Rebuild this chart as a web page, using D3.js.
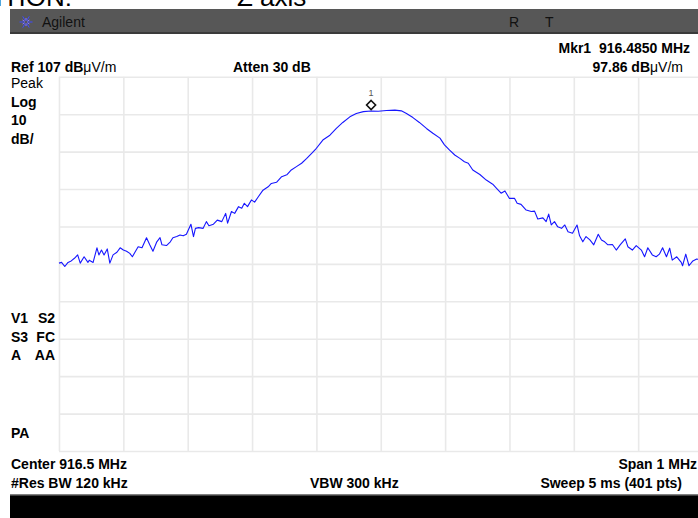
<!DOCTYPE html>
<html lang="en">
  <head>
    <meta charset="UTF-8" />
    <title>Spectrum trace - 916.5 MHz</title>
    <script src="https://cdn.jsdelivr.net/npm/d3@7"></script>
    <style>
      html, body { margin: 0; padding: 0; background: #fff; }
      svg { display: block; font-family: Arial, "Liberation Sans", sans-serif; }
      .b { font-weight: bold; font-size: 14px; fill: #000; white-space: pre; }
      .r { font-weight: normal; }
      .grid line { stroke: #e9e9e9; stroke-width: 1.6; }
      .grid path { display: none; }
    </style>
  </head>
  <body>
    <svg id="svg"></svg>
    <script>
      // analyzer settings
      const refLevel = 107;
      const dbPerDiv = 10;
      const freqTicks = [916.0, 916.1, 916.2, 916.3, 916.4, 916.5, 916.6, 916.7, 916.8, 916.9, 917.0];
      const levelTicks = [7, 17, 27, 37, 47, 57, 67, 77, 87, 97, 107];

      // trace, MHz / dBuV/m
      const freqMHz = [
        916.000, 916.004, 916.009, 916.014, 916.019, 916.024, 916.029, 916.033, 916.039, 916.045,
        916.047, 916.053, 916.059, 916.062, 916.066, 916.070, 916.075, 916.079, 916.084, 916.090,
        916.095, 916.100, 916.105, 916.110, 916.114, 916.118, 916.123, 916.129, 916.136, 916.141,
        916.146, 916.152, 916.157, 916.160, 916.167, 916.173, 916.177, 916.183, 916.188, 916.193,
        916.198, 916.205, 916.209, 916.212, 916.217, 916.224, 916.229, 916.233, 916.240, 916.246,
        916.253, 916.259, 916.262, 916.268, 916.273, 916.279, 916.284, 916.288, 916.293, 916.299,
        916.304, 916.310, 916.317, 916.325, 916.330, 916.338, 916.346, 916.354, 916.361, 916.369,
        916.377, 916.385, 916.393, 916.400, 916.410, 916.421, 916.431, 916.441, 916.452, 916.462,
        916.473, 916.485, 916.496, 916.509, 916.522, 916.532, 916.540, 916.550, 916.560, 916.571,
        916.581, 916.592, 916.599, 916.607, 916.615, 916.623, 916.630, 916.636, 916.643, 916.654,
        916.664, 916.674, 916.680, 916.687, 916.693, 916.700, 916.708, 916.712, 916.718, 916.726,
        916.734, 916.739, 916.744, 916.752, 916.757, 916.761, 916.765, 916.770, 916.775, 916.781,
        916.786, 916.791, 916.798, 916.805, 916.809, 916.814, 916.819, 916.825, 916.831, 916.838,
        916.843, 916.848, 916.853, 916.860, 916.866, 916.872, 916.880, 916.884, 916.891, 916.897,
        916.905, 916.910, 916.915, 916.922, 916.928, 916.933, 916.938, 916.944, 916.949, 916.953,
        916.960, 916.967, 916.969, 916.974, 916.979, 916.985, 916.991, 917.000
      ];
      const levelDb = [
        57.2, 57.4, 56.3, 57.4, 57.8, 58.5, 59.4, 57.2, 58.9, 57.4,
        58.0, 57.4, 61.3, 59.4, 60.7, 59.4, 61.0, 57.2, 59.4, 60.1,
        61.3, 60.7, 60.4, 59.8, 58.9, 60.1, 61.6, 61.3, 64.0, 62.1,
        60.4, 62.9, 64.0, 62.1, 61.9, 62.9, 64.0, 64.3, 64.7, 64.5,
        64.9, 67.6, 64.3, 66.5, 66.7, 66.5, 68.3, 67.2, 67.6, 68.7,
        68.3, 70.5, 67.9, 71.0, 70.5, 72.3, 71.9, 73.2, 72.3, 74.1,
        73.5, 75.0, 76.7, 77.6, 78.5, 78.8, 80.3, 80.8, 82.1, 83.0,
        83.9, 85.2, 86.6, 87.9, 90.1, 91.4, 93.2, 94.8, 96.3, 97.2,
        97.7, 97.86, 97.8, 98.0, 98.1, 97.9, 97.2, 96.1, 94.8, 93.2,
        91.9, 90.6, 88.8, 87.4, 86.1, 85.2, 84.3, 83.9, 82.1, 80.9,
        79.4, 78.3, 77.2, 75.9, 76.5, 74.5, 74.5, 73.2, 72.9, 71.4,
        71.0, 71.1, 69.0, 69.3, 68.3, 70.3, 67.4, 68.3, 66.9, 66.5,
        67.4, 65.6, 65.2, 67.4, 64.5, 62.9, 64.3, 63.4, 62.1, 64.9,
        63.4, 62.9, 62.1, 62.2, 60.7, 62.1, 63.7, 61.6, 60.7, 61.9,
        60.7, 58.9, 61.3, 59.4, 58.9, 59.6, 61.3, 58.9, 61.2, 58.0,
        58.9, 57.4, 56.5, 59.6, 56.5, 57.8, 58.3, 58.0
      ];
      const markerFreq = 916.485;
      const markerLevel = 97.86;

      const W = 698, H = 518;
      const svg = d3.select("#svg").attr("width", W).attr("height", H);

      const x = d3.scaleLinear().domain([916.0, 917.0]).range([59, 702.5]);
      const y = d3.scaleLinear()
        .domain([refLevel - 10 * dbPerDiv, refLevel])
        .range([451, 76.8]);

      // heading text cut off by the top edge (as in the screenshot)
      svg.append("text").attr("x", 72).attr("y", 6).attr("text-anchor", "end")
        .style("font-size", "26px").text("POSITION:");
      svg.append("text").attr("x", 237).attr("y", 6)
        .style("font-size", "26px").text("Z axis");

      // title bar
      svg.append("rect").attr("x", 10).attr("y", 9).attr("width", W - 10).attr("height", 24)
        .attr("fill", "#575757");
      svg.append("rect").attr("x", 10).attr("y", 32).attr("width", W - 10).attr("height", 2)
        .attr("fill", "#3a3a3a");
      const star = svg.append("g").attr("transform", "translate(26,22)");
      d3.range(12).forEach((i) => {
        const a = (i * Math.PI) / 6;
        const r = i % 2 ? 4 : 6.5;
        star.append("line")
          .attr("x1", Math.cos(a) * 1.5).attr("y1", Math.sin(a) * 1.5)
          .attr("x2", Math.cos(a) * r).attr("y2", Math.sin(a) * r)
          .attr("stroke", i % 2 ? "#8a7bff" : "#3f4bff").attr("stroke-width", 1);
      });
      svg.append("text").attr("x", 42).attr("y", 27).style("font-size", "14px")
        .attr("fill", "#111").text("Agilent");
      svg.append("text").attr("x", 509).attr("y", 27).style("font-size", "14px")
        .attr("fill", "#111").text("R");
      svg.append("text").attr("x", 545).attr("y", 27).style("font-size", "14px")
        .attr("fill", "#111").text("T");

      // grid from axes
      const plotH = y(levelTicks[0]) - y(levelTicks[levelTicks.length - 1]);
      svg.append("g").attr("class", "grid")
        .attr("transform", `translate(0,${y(levelTicks[0])})`)
        .call(d3.axisBottom(x).tickValues(freqTicks).tickSize(plotH).tickFormat(""))
        .selectAll(".tick line").attr("y2", -plotH);
      svg.append("g").attr("class", "grid")
        .attr("transform", `translate(${x(916.0)},0)`)
        .call(d3.axisLeft(y).tickValues(levelTicks).tickSize(-(x(917.0) - x(916.0))).tickFormat(""));

      // trace
      const line = d3.line().x((d, i) => x(freqMHz[i])).y((d) => y(d));
      svg.append("path").datum(levelDb)
        .attr("d", line)
        .attr("fill", "none")
        .attr("stroke", "#1616ff")
        .attr("stroke-width", 1.1)
        .attr("stroke-linejoin", "round");

      // marker 1
      const mx = x(markerFreq), my = y(markerLevel) - 6;
      svg.append("path")
        .attr("d", `M${mx},${my - 4.5} L${mx + 4.5},${my} L${mx},${my + 4.5} L${mx - 4.5},${my} Z`)
        .attr("fill", "#fff").attr("stroke", "#111").attr("stroke-width", 1.6);
      svg.append("text").attr("x", mx).attr("y", my - 9).attr("text-anchor", "middle")
        .style("font-size", "9px").attr("fill", "#555").text("1");

      // annotation text
      const t = (tx, ty, str, anchor) =>
        svg.append("text").attr("class", "b").attr("x", tx).attr("y", ty)
          .attr("text-anchor", anchor || "start").text(str);

      const ref = t(11, 72, "");
      ref.append("tspan").text(`Ref ${refLevel} dB`);
      ref.append("tspan").attr("class", "r").text("\u03bcV/m");
      t(233, 72, "Atten 30 dB");
      t(690, 53, "Mkr1  916.4850 MHz", "end");
      const mk = t(683, 72, "", "end");
      mk.append("tspan").text(`${markerLevel.toFixed(2)} dB`);
      mk.append("tspan").attr("class", "r").text("\u03bcV/m");

      t(11, 88, "Peak").classed("r", true);
      t(11, 106.5, "Log");
      t(11, 125, String(dbPerDiv));
      t(11, 143.5, "dB/");

      t(11, 323, "V1");
      t(55, 323, "S2", "end");
      t(11, 341.5, "S3");
      t(55, 341.5, "FC", "end");
      t(11, 360, "A");
      t(55, 360, "AA", "end");
      t(11, 438, "PA");

      t(11, 469, "Center 916.5 MHz");
      t(697, 469, "Span 1 MHz", "end");
      t(11, 488, "#Res BW 120 kHz");
      t(310, 488, "VBW 300 kHz");
      t(682, 488, "Sweep 5 ms (401 pts)", "end");

      // bottom bar
      svg.append("rect").attr("x", 10).attr("y", 495).attr("width", W - 10).attr("height", H - 495)
        .attr("fill", "#000");
      svg.append("rect").attr("x", 10).attr("y", 494).attr("width", W - 10).attr("height", 1.5)
        .attr("fill", "#808080");
    </script>
  </body>
</html>
